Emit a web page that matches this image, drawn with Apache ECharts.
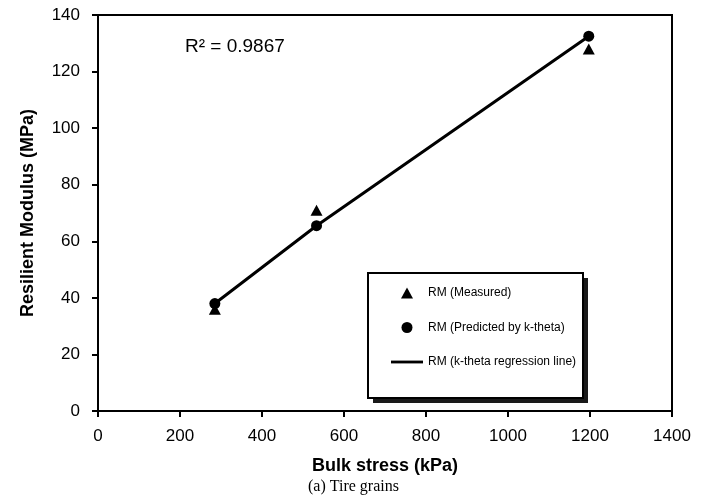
<!DOCTYPE html>
<html><head><meta charset="utf-8">
<script src="https://cdn.jsdelivr.net/npm/echarts@6/dist/echarts.min.js"></script>
<style>html,body{margin:0;padding:0;background:#fff}#c{width:707px;height:497px}</style>
</head><body><div id="c"></div>
<script>
const bulkStress = [285, 533, 1197];
const rmMeasured = [36, 71, 128];
const rmPredicted = [38, 65.5, 132.5];
const xTicks = [0, 200, 400, 600, 800, 1000, 1200, 1400];
const yTicks = [0, 20, 40, 60, 80, 100, 120, 140];
const seriesNames = ['RM (Measured)', 'RM (Predicted by k-theta)', 'RM (k-theta regression line)'];
const r2Text = 'R² = 0.9867';
const captionText = '(a) Tire grains';
const xTitle = 'Bulk stress (kPa)';
const yTitle = 'Resilient Modulus (MPa)';

const pair = (xs, ys) => xs.map((x, i) => [x, ys[i]]);
const chart = echarts.init(document.getElementById('c'));
const font = 'Liberation Sans, Arial, sans-serif';
const G = {left: 98, top: 15, right: 35, bottom: 86};
chart.setOption({
  animation: false,
  backgroundColor: '#fff',
  grid: {left: G.left, top: G.top, right: G.right, bottom: G.bottom, show: true, borderColor: '#000', borderWidth: 2, containLabel: false},
  xAxis: {
    type: 'value', min: xTicks[0], max: xTicks[xTicks.length - 1], interval: 200,
    name: xTitle, nameLocation: 'middle', nameGap: 46,
    nameTextStyle: {fontFamily: font, fontWeight: 'bold', fontSize: 18, color: '#000'},
    axisLine: {show: true, onZero: false, lineStyle: {color: '#000', width: 2}},
    axisTick: {show: true, inside: false, length: 6, lineStyle: {color: '#000', width: 2}},
    axisLabel: {fontFamily: font, fontSize: 17, color: '#000', margin: 17, formatter: v => String(v)},
    splitLine: {show: false}
  },
  yAxis: {
    type: 'value', min: yTicks[0], max: yTicks[yTicks.length - 1], interval: 20,
    name: yTitle, nameLocation: 'middle', nameGap: 61, nameRotate: 90,
    nameTextStyle: {fontFamily: font, fontWeight: 'bold', fontSize: 18, color: '#000'},
    axisLine: {show: true, onZero: false, lineStyle: {color: '#000', width: 2}},
    axisTick: {show: true, inside: false, length: 6, lineStyle: {color: '#000', width: 2}},
    axisLabel: {fontFamily: font, fontSize: 17, color: '#000', margin: 18, formatter: v => String(v)},
    splitLine: {show: false}
  },
  legend: {
    orient: 'vertical', left: 386, top: 282,
    itemWidth: 32, itemHeight: 11, itemGap: 22.5, symbolKeepAspect: true,
    textStyle: {fontFamily: font, fontSize: 12, color: '#000'},
    data: [
      {name: seriesNames[0], icon: 'path://M6,0L12,11L0,11Z'},
      {name: seriesNames[1], icon: 'circle'},
      {name: seriesNames[2], icon: 'path://M0,0L34,0L34,3L0,3Z'}
    ],
    z: 10
  },
  graphic: [
    {type: 'rect', shape: {x: 373, y: 278, width: 215, height: 125}, style: {fill: '#1a1a1a'}, z: 5, silent: true},
    {type: 'rect', shape: {x: 368, y: 273, width: 215, height: 125}, style: {fill: '#fff', stroke: '#000', lineWidth: 2}, z: 6, silent: true},
    {type: 'text', left: 185, top: 37, style: {text: r2Text, font: '19px ' + font, fill: '#000'}},
    {type: 'text', left: 'center', top: 479, style: {text: captionText, font: '16px "Liberation Serif", "Times New Roman", serif', fill: '#000'}}
  ],
  series: [
    {name: seriesNames[2], type: 'line', data: pair(bulkStress, rmPredicted), showSymbol: false, symbol: 'none',
     lineStyle: {color: '#000', width: 3}, itemStyle: {color: '#000', opacity: 1}, z: 2},
    {name: seriesNames[0], type: 'scatter', data: pair(bulkStress, rmMeasured), symbol: 'triangle', symbolSize: [12, 11],
     itemStyle: {color: '#000', opacity: 1}, z: 3},
    {name: seriesNames[1], type: 'scatter', data: pair(bulkStress, rmPredicted), symbol: 'circle', symbolSize: 11,
     itemStyle: {color: '#000', opacity: 1}, z: 4}
  ]
});
</script></body></html>
